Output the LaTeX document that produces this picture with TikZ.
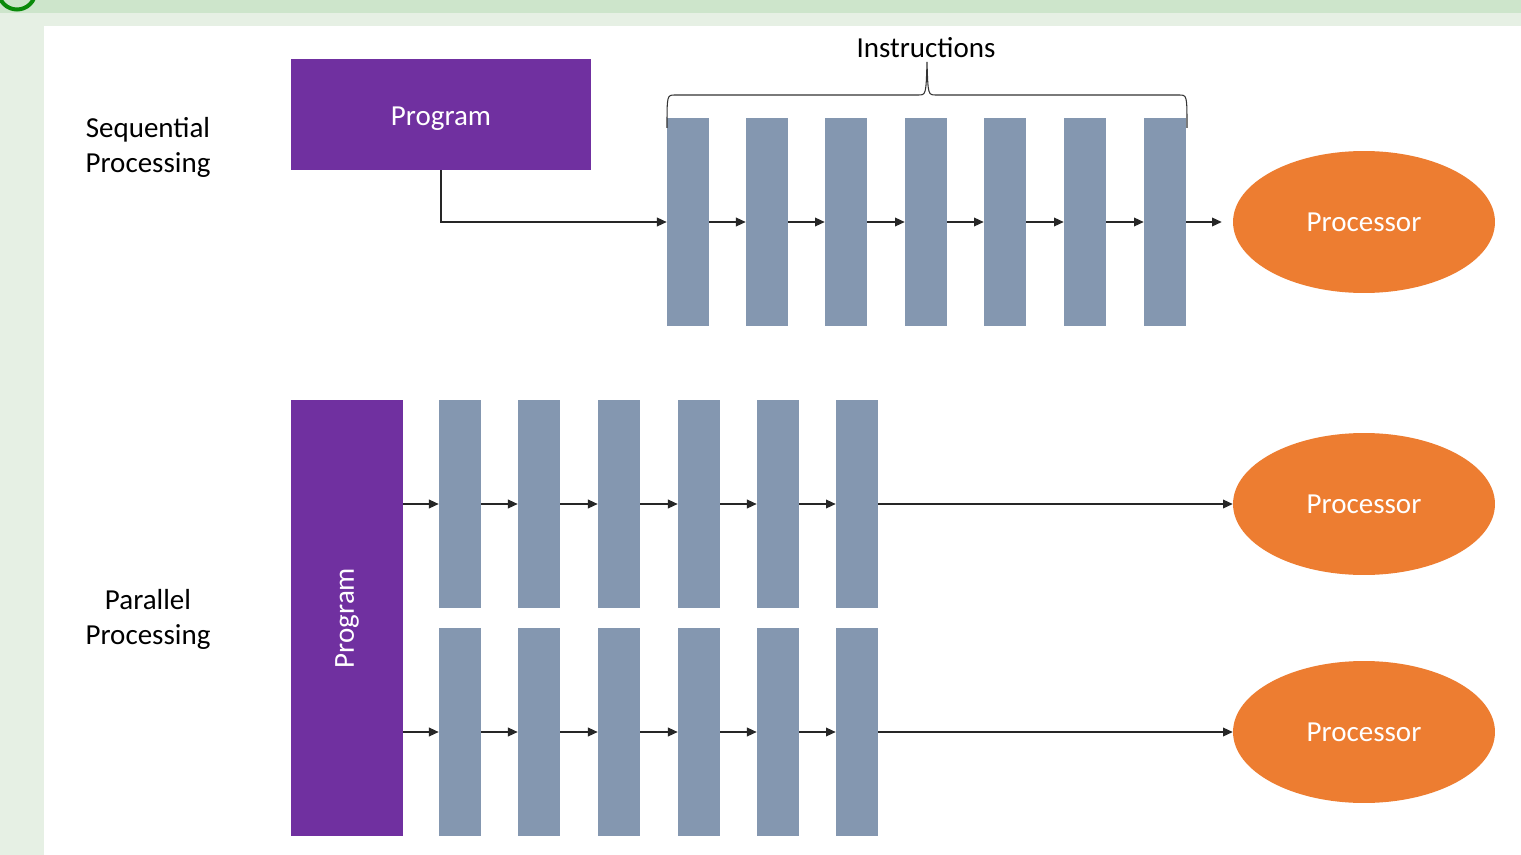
\documentclass[tikz,border=0pt]{standalone}
\usepackage{fontspec}
\setmainfont{Carlito}
\usepackage{graphicx}
\usetikzlibrary{arrows.meta,shapes.geometric}
\definecolor{progc}{HTML}{7030A0}
\definecolor{barc}{HTML}{8497B0}
\definecolor{procc}{HTML}{ED7D31}
\definecolor{bgtop}{HTML}{CDE5CB}
\definecolor{bglight}{HTML}{E6F0E4}
\definecolor{ringc}{HTML}{0A8A0A}
\begin{document}
\begin{tikzpicture}[x=0.02cm,y=-0.02cm,
  txt/.style={font=\fontsize{16.5}{20}\selectfont, inner sep=0},
  bar/.style={fill=barc, draw=none, minimum width=0.84cm, minimum height=4.16cm, inner sep=0},
  prog/.style={fill=progc, text=white, draw=none, inner sep=0, font=\fontsize{16.5}{20}\selectfont},
  proc/.style={ellipse, fill=procc, draw=none, text=white, minimum width=5.24cm, minimum height=2.84cm, inner sep=0, font=\fontsize{16.5}{20}\selectfont},
  arr/.style={-{Triangle[length=5.5pt,width=5pt]}, line width=0.6pt, draw=black!85},
  brace/.style={line width=0.6pt, draw=black!80}]
\useasboundingbox (0,0) rectangle (1521,855);
% background
\fill[bglight] (0,0) rectangle (1521,855);
\fill[bgtop] (0,0) rectangle (1521,13);
\fill[white] (44,26) rectangle (1521,855);
\begin{scope}
\clip (0,0) rectangle (1521,855);
\draw[ringc, line width=0.08cm] (17,-9) circle[radius=0.37cm];
\end{scope}
% labels
\node[txt, align=center] (seq) at (148,147) {Sequential\\Processing};
\node[txt, align=center] (par) at (148,619) {Parallel\\Processing};
% sequential
\node[prog, minimum width=6cm, minimum height=2.22cm,
  label={[text=white, inner sep=0, font=\fontsize{16.5}{20}\selectfont, yshift=-2.5pt]center:Program}] (p1) at (441,114.5) {};
\foreach \i/\x in {1/688,2/767,3/846,4/926,5/1005,6/1085,7/1165}{
  \node[bar] (t\i) at (\x,222) {};
}
\node[proc] (c1) at (1364,222) {Processor};
\draw[arr] (p1.south) |- (t1.west);
\foreach \i/\j in {1/2,2/3,3/4,4/5,5/6,6/7}{
  \draw[arr] (t\i.east) -- (t\j.west);
}
\draw[arr, shorten >=0.22cm] (t7.east) -- (c1.west);
% brace
\coordinate (tip) at (927,62);
\draw[brace] (667,128) .. controls (667,95) .. (675,95) -- (918,95) .. controls (926,95) .. (tip)
  .. controls (928,95) .. (936,95) -- (1179,95) .. controls (1187,95) .. (1187,128);
\node[txt] (ins) at (926,48) {Instructions};
% parallel
\node[prog, minimum width=2.24cm, minimum height=8.72cm] (p2) at (347,618) {\rotatebox{90}{Program}};
\foreach \i/\x in {1/460,2/539,3/619,4/699,5/778,6/857}{
  \node[bar] (a\i) at (\x,504) {};
  \node[bar] (b\i) at (\x,732) {};
}
\node[proc] (c2) at (1364,504) {Processor};
\node[proc] (c3) at (1364,732) {Processor};
\draw[arr] (p2.east |- a1.west) -- (a1.west);
\draw[arr] (p2.east |- b1.west) -- (b1.west);
\foreach \i/\j in {1/2,2/3,3/4,4/5,5/6}{
  \draw[arr] (a\i.east) -- (a\j.west);
  \draw[arr] (b\i.east) -- (b\j.west);
}
\draw[arr] (a6.east) -- (c2.west);
\draw[arr] (b6.east) -- (c3.west);
\end{tikzpicture}
\end{document}
